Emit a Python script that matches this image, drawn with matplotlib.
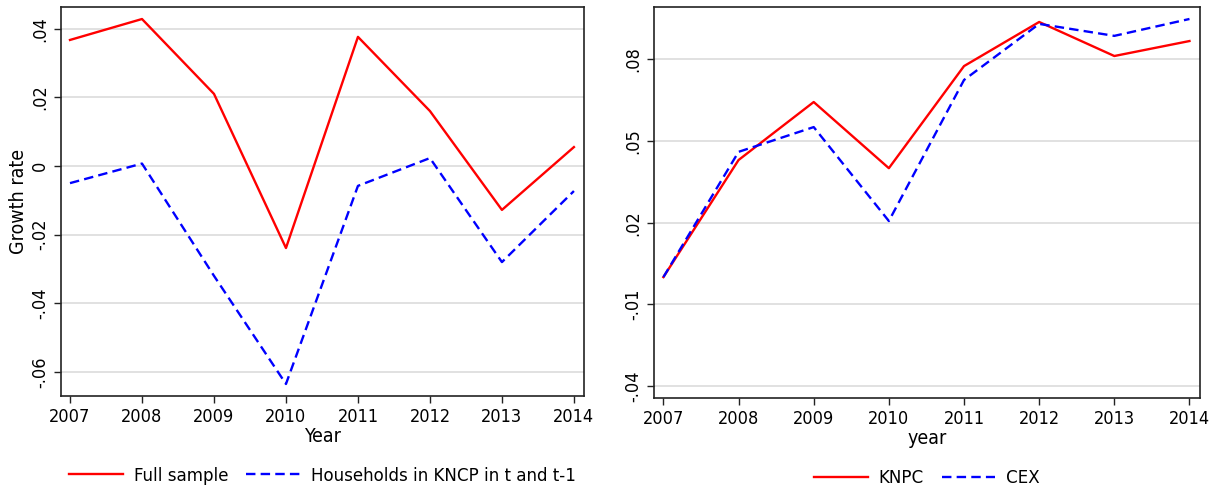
import matplotlib.pyplot as plt

# Growth rates by year
years = [2007, 2008, 2009, 2010, 2011, 2012, 2013, 2014]

full_sample = [0.0367, 0.0428, 0.021, -0.0239, 0.0376, 0.016, -0.0128, 0.0055]
panel_hh = [-0.005, 0.0007, -0.032, -0.0635, -0.0058, 0.0023, -0.028, -0.0073]

knpc = [0.0, 0.043, 0.0643, 0.040, 0.0775, 0.0937, 0.0812, 0.0867]
cex = [0.0, 0.046, 0.0551, 0.0206, 0.0724, 0.093, 0.0886, 0.0948]

left_yticks = [0.04, 0.02, 0.0, -0.02, -0.04, -0.06]
left_ylabels = [".04", ".02", "0", "-.02", "-.04", "-.06"]
right_yticks = [0.08, 0.05, 0.02, -0.01, -0.04]
right_ylabels = [".08", ".05", ".02", "-.01", "-.04"]

plt.rcParams["font.family"] = "DejaVu Sans"
plt.rcParams["font.stretch"] = "condensed"
plt.rcParams["font.size"] = 13

fig = plt.figure(figsize=(12.17, 4.88), dpi=100)
ax1 = fig.add_axes([61 / 1217, 92 / 488, 523 / 1217, 389 / 488])
ax2 = fig.add_axes([654 / 1217, 90 / 488, 546 / 1217, 391 / 488])

dash = (4, 2.2)


def style(ax, yticks, ylabels, ylim):
    ax.set_xlim(2006.875, 2014.14)
    ax.set_ylim(*ylim)
    ax.set_xticks(years)
    ax.set_yticks(yticks)
    ax.set_yticklabels(ylabels, rotation=90, va="center")
    ax.grid(axis="y", color="#dcdcdc", lw=1.2)
    ax.set_axisbelow(True)
    for s in ax.spines.values():
        s.set_color("#222222")
        s.set_linewidth(1.2)
    ax.tick_params(direction="out", length=5, width=1, colors="#222222",
                   labelcolor="black", labelsize=13)


ax1.plot(years, full_sample, color="red", lw=1.7, label="Full sample")
ax1.plot(years, panel_hh, color="blue", lw=1.7, dashes=dash,
         label="Households in KNCP in t and t-1")
style(ax1, left_yticks, left_ylabels, (-0.067, 0.0463))
ax1.set_xlabel("Year", fontsize=14, labelpad=1)
ax1.set_ylabel("Growth rate", fontsize=14, labelpad=2)

ax2.plot(years, knpc, color="red", lw=1.7, label="KNPC")
ax2.plot(years, cex, color="blue", lw=1.7, dashes=dash, label="CEX")
style(ax2, right_yticks, right_ylabels, (-0.0444, 0.0992))
ax2.set_xlabel("year", fontsize=14, labelpad=1)

for ax in (ax1, ax2):
    ax.legend(loc="center", bbox_to_anchor=(0.5, -0.205), ncol=2,
              frameon=False, handlelength=2.9, handletextpad=0.6,
              columnspacing=0.95, fontsize=13.3)

fig.savefig("out.png", dpi=100)
